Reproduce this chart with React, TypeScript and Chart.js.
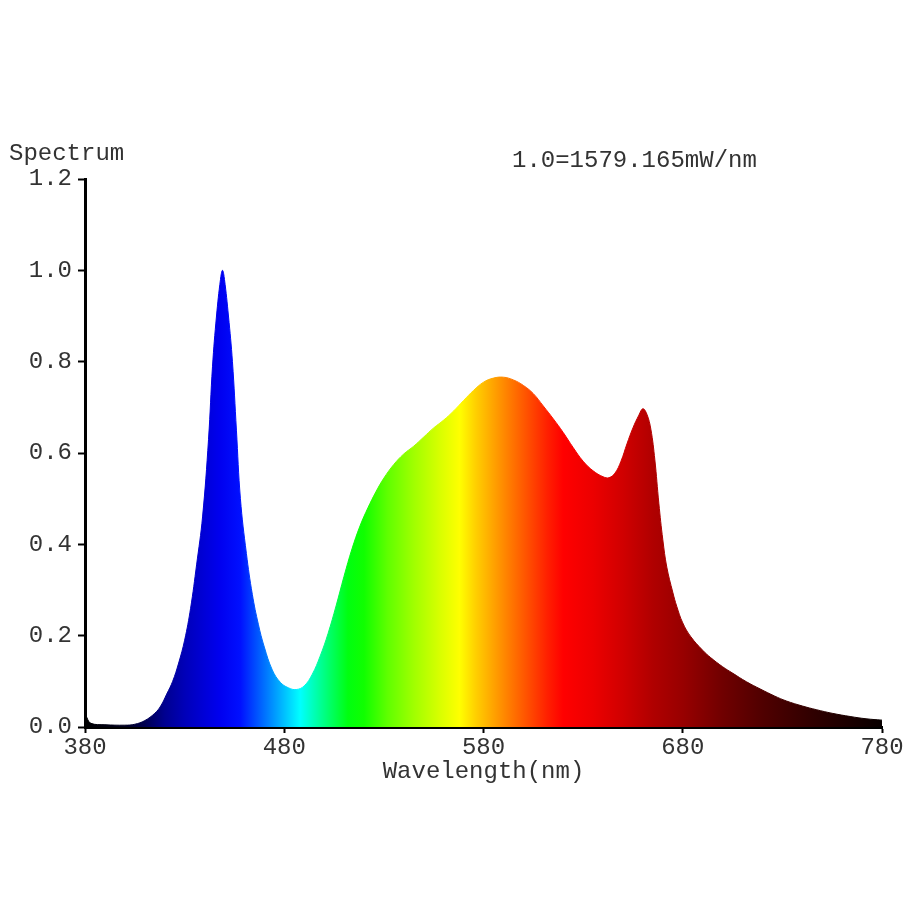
import { useEffect, useRef } from "react";
import { Chart, registerables } from "chart.js";

Chart.register(...registerables);

// Wavelength (nm)
const wavelengths = [
  380, 381, 383, 390, 400, 405, 410, 415, 418, 421, 424, 427, 430, 433, 436, 439,
  442, 444, 446, 448, 449, 450, 452, 454, 456, 458, 461, 464, 467, 470, 474, 478,
  482, 486, 490, 494, 498, 502, 506, 510, 514, 518, 522, 526, 530, 535, 540, 545,
  550, 555, 560, 565, 570, 575, 580, 585, 590, 595, 600, 605, 610, 615, 620, 625,
  630, 635, 640, 643, 646, 649, 652, 655, 658, 660, 662, 664, 666, 668, 670, 672,
  675, 677, 680, 684, 690, 694, 700, 705, 712, 719, 726, 732, 740, 747, 755, 764,
  772, 780,
];

// Relative spectral power (1.0 = 1579.165 mW/nm)
const intensities = [
  0.035, 0.02, 0.008, 0.005, 0.004, 0.006, 0.014, 0.03, 0.046, 0.072, 0.1, 0.14, 0.19, 0.26, 0.355, 0.46,
  0.63, 0.79, 0.9, 0.98, 1.0, 0.98, 0.9, 0.8, 0.65, 0.5, 0.38, 0.29, 0.225, 0.175, 0.125, 0.098,
  0.086, 0.082, 0.09, 0.115, 0.155, 0.205, 0.265, 0.33, 0.39, 0.44, 0.48, 0.515, 0.545, 0.575, 0.598, 0.615,
  0.635, 0.655, 0.672, 0.692, 0.715, 0.737, 0.755, 0.764, 0.766, 0.76, 0.748, 0.73, 0.703, 0.675, 0.645, 0.612,
  0.582, 0.561, 0.548, 0.546, 0.556, 0.582, 0.62, 0.655, 0.683, 0.697, 0.685, 0.652, 0.585, 0.49, 0.41, 0.35,
  0.295, 0.264, 0.228, 0.198, 0.168, 0.152, 0.132, 0.118, 0.099, 0.083, 0.068, 0.057, 0.046, 0.038, 0.03, 0.023,
  0.018, 0.015,
];

const xTickValues = [380, 480, 580, 680, 780];
const yTickValues = [0, 0.2, 0.4, 0.6, 0.8, 1.0, 1.2];

const yAxisLabel = "Spectrum";
const xAxisLabel = "Wavelength(nm)";
const scaleNote = "1.0=1579.165mW/nm";

// Spectral colour stops: [wavelength, colour]
const spectrumStops: [number, string][] = [
  [380, "#000000"], [400, "#000020"], [410, "#000050"], [420, "#000090"],
  [430, "#0000b8"], [440, "#0000d8"], [448, "#0000f0"], [458, "#0010ff"],
  [466, "#0050ff"], [474, "#0090ff"], [482, "#00d0ff"], [488, "#00ffff"],
  [494, "#00ffc0"], [502, "#00ff70"], [512, "#00ff10"], [520, "#10ff00"],
  [532, "#60ff00"], [545, "#a0ff00"], [558, "#d8ff00"], [568, "#ffff00"],
  [576, "#ffd000"], [584, "#ffa800"], [592, "#ff8000"], [602, "#ff5000"],
  [612, "#ff2000"], [620, "#ff0000"], [635, "#ec0000"], [650, "#d00000"],
  [665, "#b00000"], [680, "#980000"], [700, "#700000"], [720, "#500000"],
  [745, "#300000"], [780, "#080000"],
];

const FONT = "'Liberation Mono', 'Courier New', monospace";
const TEXT_COLOR = "#333333";

function spectrumGradient(chart: any) {
  const { ctx, chartArea, scales } = chart;
  if (!chartArea || !scales.x) return "#0000ff";
  const x = scales.x;
  const x0 = x.getPixelForValue(380);
  const x1 = x.getPixelForValue(780);
  const g = ctx.createLinearGradient(x0, 0, x1, 0);
  spectrumStops.forEach(([wl, c]) => {
    const p = (x.getPixelForValue(wl) - x0) / (x1 - x0);
    g.addColorStop(Math.min(1, Math.max(0, p)), c);
  });
  return g;
}

const textPlugin = {
  id: "spectrumTexts",
  afterDraw(chart: any) {
    const { ctx, chartArea } = chart;
    ctx.save();
    ctx.font = `24px ${FONT}`;
    ctx.fillStyle = TEXT_COLOR;
    ctx.textBaseline = "middle";
    ctx.textAlign = "left";
    ctx.fillText(yAxisLabel, chartArea.left - 76, chartArea.top - 25);
    ctx.fillText(scaleNote, chartArea.left + 427, chartArea.top - 18);
    ctx.restore();
  },
};

export default function App() {
  const canvasRef = useRef<HTMLCanvasElement | null>(null);

  useEffect(() => {
    const canvas = canvasRef.current;
    if (!canvas) return;
    const points = wavelengths.map((w, i) => ({ x: w, y: intensities[i] }));
    const chart = new Chart(canvas, {
      type: "line",
      data: {
        datasets: [
          {
            data: points,
            fill: "origin",
            backgroundColor: (c: any) => spectrumGradient(c.chart),
            borderColor: (c: any) => spectrumGradient(c.chart),
            borderWidth: 1,
            pointRadius: 0,
            tension: 0.4,
          },
        ],
      },
      options: {
        responsive: false,
        animation: false,
        layout: { padding: { left: 0, right: 38, top: 179, bottom: 133 } },
        plugins: {
          legend: { display: false },
          tooltip: { enabled: false },
          title: { display: false },
        },
        scales: {
          x: {
            type: "linear",
            min: 380,
            max: 780,
            afterBuildTicks: (scale: any) => {
              scale.ticks = xTickValues.map((v) => ({ value: v }));
            },
            afterFit: (scale: any) => {
              scale.height = 60;
            },
            border: { display: true, color: "#000", width: 3 },
            grid: {
              drawOnChartArea: false,
              drawTicks: true,
              tickLength: 6,
              tickColor: "#000",
              tickWidth: 2,
            },
            ticks: {
              color: TEXT_COLOR,
              font: { family: FONT, size: 24, lineHeight: 1 },
              padding: 3,
              maxRotation: 0,
              autoSkip: false,
              callback: (v: any) => String(v),
            },
            title: {
              display: true,
              text: xAxisLabel,
              color: TEXT_COLOR,
              font: { family: FONT, size: 24, lineHeight: 1 },
              padding: { top: 0, bottom: 3 },
            },
          },
          y: {
            type: "linear",
            min: 0,
            max: 1.2,
            afterBuildTicks: (scale: any) => {
              scale.ticks = yTickValues.map((v) => ({ value: v }));
            },
            afterFit: (scale: any) => {
              scale.width = 85;
            },
            border: { display: true, color: "#000", width: 3 },
            grid: {
              drawOnChartArea: false,
              drawTicks: true,
              tickLength: 7,
              tickColor: "#000",
              tickWidth: 2,
            },
            ticks: {
              color: TEXT_COLOR,
              font: { family: FONT, size: 24, lineHeight: 1 },
              padding: 6,
              autoSkip: false,
              callback: (v: any) => Number(v).toFixed(1),
            },
          },
        },
      },
      plugins: [textPlugin],
    });
    return () => chart.destroy();
  }, []);

  return (
    <div style={{ position: "absolute", left: 0, top: 0, width: 920, height: 920, background: "#fff" }}>
      <canvas ref={canvasRef} width={920} height={920} style={{ display: "block" }} />
    </div>
  );
}
